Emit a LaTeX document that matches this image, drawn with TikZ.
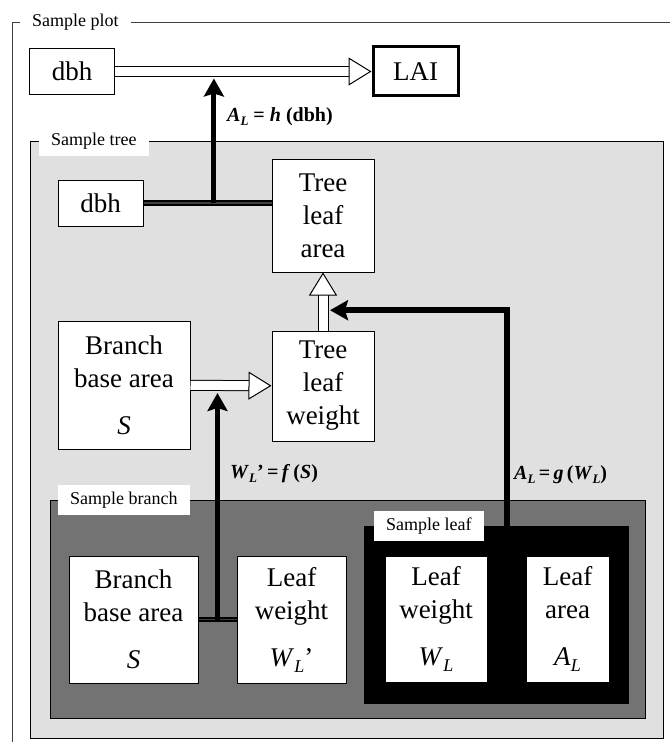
\documentclass[tikz,border=0pt]{standalone}
\usepackage{fontspec}
\setmainfont{Liberation Serif}
\usetikzlibrary{arrows.meta, positioning, calc}

\newcommand{\boxsub}{\raisebox{-6pt}{\fontsize{18}{18}\selectfont\textit{L}}}
\newcommand{\eqsub}{\raisebox{-4pt}{\fontsize{13}{13}\selectfont\textit{L}}}

\begin{document}
\begin{tikzpicture}[
        x=1pt, y=-1pt,
        box/.style={
            rectangle,
            draw=black,
            line width=1pt,
            fill=white,
            align=center,
            inner sep=0pt,
            font=\fontsize{27}{33}\selectfont
        },
        framelabel/.style={
            fill=white,
            anchor=west,
            inner xsep=12pt,
            inner ysep=7pt,
            font=\fontsize{18}{20}\selectfont
        },
        plotline/.style={draw=black!75, line width=0.8pt},
        treeframe/.style={rectangle, draw=black, line width=0.8pt, fill=black!12, anchor=north west},
        branchframe/.style={rectangle, draw=black, line width=0.8pt, fill=black!55, anchor=north west},
        leafframe/.style={rectangle, draw=black, fill=black, anchor=north west},
        hollow/.style={
            draw=white,
            line width=9pt,
            -{Triangle[color=black, fill=white, line width'=1pt, length=23pt, width=28pt]},
            preaction={draw=black, line width=11pt, -, shorten >=21pt}
        },
        link/.style={draw=black, line width=2pt, double=black!75, double distance=1.5pt},
        arrow/.style={
            draw=black,
            line width=5pt,
            -{Stealth[length=18pt, width=20pt, inset=3pt]}
        },
        formula/.style={anchor=west, inner sep=1pt, font=\fontsize{20}{24}\selectfont\bfseries}
    ]
    \useasboundingbox (0,0) rectangle (670,749);

    % Sample plot (open frame)
    \draw[plotline] (670,22) -- (12,22) -- (12,742);
    \node[framelabel] (plotlbl) at (20,22) {Sample plot};
    \node[box, minimum width=85pt, minimum height=46pt] (plotdbh) at (72,71.5) {dbh};
    \node[box, line width=3pt, minimum width=85pt, minimum height=49pt] (lai) at (415.5,71.5) {LAI};

    % Sample tree
    \node[treeframe, minimum width=633pt, minimum height=597pt] (tree) at (30,141) {};
    \node[framelabel] (treelbl) at ([xshift=9pt]tree.north west) {Sample tree};
    \node[box, minimum width=85pt, minimum height=46pt] (treedbh) at (100.5,203) {dbh};
    \node[box, minimum width=102pt, minimum height=113pt] (tla) at (323,215.5) {Tree\\leaf\\area};
    \node[box, minimum width=102pt, minimum height=110pt, below=58pt of tla] (tlw) {Tree\\leaf\\weight};
    \node[box, minimum width=132pt, minimum height=128pt] (treebba) at (124,385) {Branch\\base area\\[14pt]\textit{S}};

    % Sample branch
    \node[branchframe, minimum width=595pt, minimum height=218pt] (branch) at (50,500) {};
    \node[framelabel] (branchlbl) at ([xshift=8pt]branch.north west) {Sample branch};
    \node[box, minimum width=129pt, minimum height=127pt] (branchbba) at (133.5,619.5) {Branch\\base area\\[14pt]\textit{S}};
    \node[box, minimum width=109pt, minimum height=127pt, right=38pt of branchbba] (branchlw) {Leaf\\weight\\[14pt]\textit{W}\boxsub’};

    % Sample leaf
    \node[leafframe, minimum width=264pt, minimum height=177pt] (leaf) at (364,526) {};
    \node[framelabel] (leaflbl) at ([xshift=10pt]leaf.north west) {Sample leaf};
    \node[box, minimum width=102pt, minimum height=126pt] (leafw) at (436,619) {Leaf\\weight\\[14pt]\textit{W}\boxsub};
    \node[box, minimum width=83pt, minimum height=126pt, right=38pt of leafw] (leafa) {Leaf\\area\\[14pt]\textit{A}\boxsub};

    % Plot level
    \draw[hollow] (plotdbh) -- (lai);

    % Tree level
    \draw[link] (treedbh) -- (treedbh -| tla.west);
    \coordinate (hjoin) at ($(treedbh.east)!0.55!(treedbh -| tla.west)$);
    \draw[arrow] (hjoin) -- ([yshift=-7pt]hjoin |- plotdbh.east);
    \node[formula] (heq) at (226,117) {\textit{A}\eqsub\ =\ \textit{h}\ (dbh)};
    \draw[hollow] (treebba) -- (tlw);
    \draw[hollow] (tlw) -- (tla);

    % Branch level
    \draw[link] (branchbba) -- (branchlw);
    \coordinate (bjoin) at ($(branchbba.east)!0.5!(branchlw.west)$);
    \draw[arrow] (bjoin) -- ([yshift=-7pt]bjoin |- tlw.west);
    \node[formula] (feq) at (229,474) {\textit{W}\eqsub’\,=\,\textit{f}\,(\textit{S})};

    % Leaf level
    \coordinate (gjoin) at ($(leafw.east)!0.5!(leafa.west)$);
    \coordinate (gtip) at ($(tlw.north)!0.35!(tla.south)$);
    \draw[arrow, line width=6pt] (gjoin |- leaf.north) |- ([xshift=7pt]gtip);
    \node[formula] (geq) at (513,475) {\textit{A}\eqsub\,=\,\textit{g}\,(\textit{W}\eqsub)};

\end{tikzpicture}
\end{document}
